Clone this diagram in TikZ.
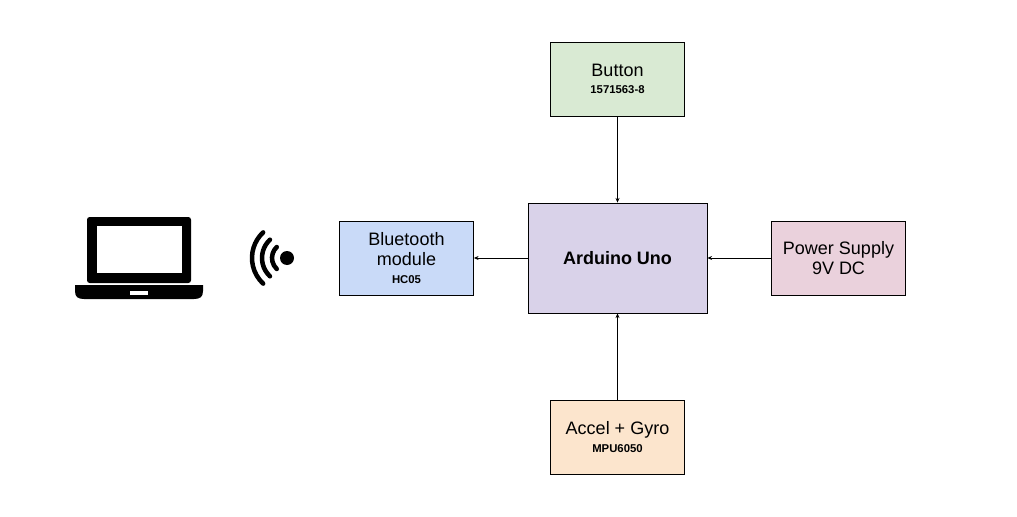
\documentclass[tikz,border=0pt,12pt]{standalone}
\usepackage{fontspec}
\setmainfont{Liberation Sans}
\usetikzlibrary{arrows.meta}
\usetikzlibrary{positioning}

\definecolor{btnfill}{HTML}{D9EAD3}
\definecolor{unofill}{HTML}{D9D2E9}
\definecolor{btfill}{HTML}{C9DAF8}
\definecolor{pwrfill}{HTML}{EAD1DC}
\definecolor{accfill}{HTML}{FCE5CD}
\newcommand{\partno}[1]{{\fontsize{8.5}{10}\selectfont\bfseries #1}}

\begin{document}
\begin{tikzpicture}[x=0.75pt, y=-0.75pt]
            \tikzset{block/.style={draw=black, semithick, align=center, inner sep=0pt,
                        minimum width=100.5pt, minimum height=55.5pt,
                        font=\fontsize{13.5}{15}\selectfont},
                    >={Stealth[black, length=3.5pt, width=3pt]},
                    every edge/.style={draw=black, semithick}}
            \useasboundingbox (0,0) rectangle (1017,517);
            \node[block, fill=unofill, minimum width=134.25pt, minimum height=82.5pt,
                  font=\fontsize{13.5}{15}\selectfont\bfseries] (uno) at (617.5,258) {Arduino Uno};
            \node[block, fill=btnfill] (btn) at (617.5,79) {Button\\[-2pt]\partno{1571563-8}};
            \node[block, fill=accfill] (acc) at (617.5,437) {Accel + Gyro\\[-2pt]\partno{MPU6050}};
            \node[block, fill=btfill] (bt) at (406.5,258) {Bluetooth\\module\\[-2pt]\partno{HC05}};
            \node[block, fill=pwrfill] (pwr) at (838.5,258) {Power Supply\\9V DC};
            \path [->] (btn) edge node {} (uno);
            \path [->] (acc) edge node {} (uno);
            \path [->] (pwr) edge node {} (uno);
            \path [->] (uno) edge node {} (bt);
            % laptop
            \fill[black, rounded corners=2pt] (87,217) rectangle (191,283);
            \fill[white] (97,226) rectangle (182,273);
            \fill[black] (75,285) -- (203,285) -- (203,291) .. controls (203,297) and (200,299) .. (194,299)
                -- (84,299) .. controls (78,299) and (75,297) .. (75,291) -- cycle;
            \fill[white] (130,290.5) rectangle (148,295);
            % wireless signal
            \coordinate (sig) at (287,258);
            \fill[black] (sig) circle[radius=5.25pt];
            \foreach \r in {11.25,18.75,26.25}
                \draw[black, line width=3.4pt, line cap=round]
                    ([shift={(133:\r pt)}]sig) arc[start angle=133, end angle=227, radius=\r pt];
\end{tikzpicture}
\end{document}
